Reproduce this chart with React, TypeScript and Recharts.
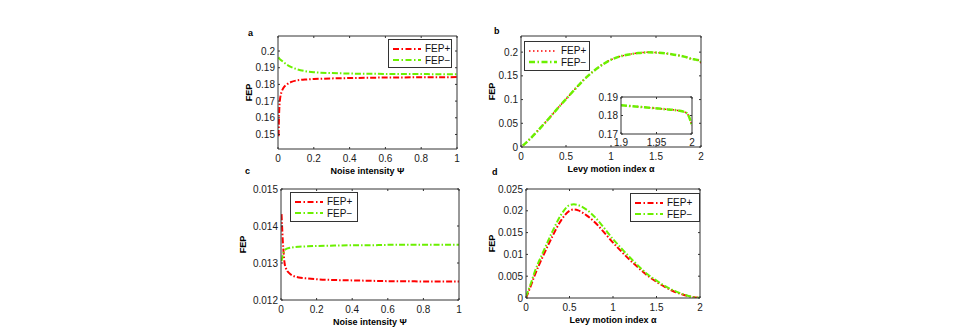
import React from 'react';
import { LineChart, Line, XAxis, YAxis, Legend } from 'recharts';

const FONT = '"Liberation Sans", Arial, Helvetica, sans-serif';
const RED = '#ff0000';
const GREEN = '#6bf000';
const AXIS = '#333333';
const TICK_FONT = 10;
const TITLE_FONT = 9;

// ---------- Panel a : FEP vs noise intensity ----------
const aNoise = [0.003, 0.006, 0.01, 0.02, 0.03, 0.05, 0.075, 0.1, 0.15, 0.2, 0.3, 0.4, 0.5, 0.6, 0.7, 0.8, 0.9, 1.0];
const aFepPlus = [0.149, 0.162, 0.17, 0.1755, 0.1778, 0.18, 0.1815, 0.1823, 0.1829, 0.1832, 0.1836, 0.1838, 0.184, 0.1841, 0.1842, 0.1843, 0.1843, 0.1844];
const aFepMinus = [0.1962, 0.1958, 0.1952, 0.1943, 0.1934, 0.1918, 0.1903, 0.1893, 0.188, 0.1873, 0.1868, 0.1865, 0.1864, 0.1863, 0.1862, 0.1862, 0.1861, 0.1861];
const aXTicks = [0, 0.2, 0.4, 0.6, 0.8, 1];
const aYTicks = [0.15, 0.16, 0.17, 0.18, 0.19, 0.2];

// ---------- Panel b : FEP vs Levy motion index ----------
const bAlpha = [0.02, 0.1, 0.2, 0.3, 0.4, 0.5, 0.6, 0.7, 0.8, 0.9, 1.0, 1.1, 1.2, 1.3, 1.4, 1.5, 1.6, 1.7, 1.8, 1.85, 1.9, 1.92, 1.94, 1.96, 1.98, 1.99, 1.995, 2.0];
const bFepPlus = [0.003, 0.017, 0.037, 0.058, 0.08, 0.101, 0.122, 0.142, 0.159, 0.173, 0.184, 0.191, 0.1952, 0.1982, 0.1997, 0.1992, 0.1976, 0.1948, 0.1912, 0.1886, 0.1855, 0.1849, 0.1842, 0.1835, 0.1827, 0.1818, 0.18, 0.1745];
const bFepMinus = [0.003, 0.017, 0.037, 0.058, 0.08, 0.101, 0.122, 0.142, 0.159, 0.173, 0.184, 0.191, 0.195, 0.198, 0.1995, 0.199, 0.1975, 0.1947, 0.191, 0.1885, 0.1855, 0.1849, 0.1842, 0.1835, 0.1827, 0.1818, 0.18, 0.1745];
const bXTicks = [0, 0.5, 1, 1.5, 2];
const bYTicks = [0, 0.05, 0.1, 0.15, 0.2];
const insetXTicks = [1.9, 1.95, 2];
const insetYTicks = [0.17, 0.18, 0.19];

// ---------- Panel c : FEP vs noise intensity ----------
const cNoise = [0.003, 0.006, 0.01, 0.015, 0.02, 0.03, 0.05, 0.075, 0.1, 0.15, 0.2, 0.3, 0.4, 0.5, 0.6, 0.7, 0.8, 0.9, 1.0];
const cFepPlus = [0.01432, 0.014, 0.0136, 0.01326, 0.013, 0.01283, 0.01271, 0.01264, 0.01261, 0.01258, 0.01256, 0.01254, 0.01253, 0.01252, 0.01251, 0.01251, 0.0125, 0.0125, 0.0125];
const cFepMinus = [0.01305, 0.01312, 0.01322, 0.01329, 0.01334, 0.01338, 0.01341, 0.01343, 0.01344, 0.01345, 0.01346, 0.01347, 0.01348, 0.01348, 0.01349, 0.01349, 0.01349, 0.01349, 0.01349];
const cXTicks = [0, 0.2, 0.4, 0.6, 0.8, 1];
const cYTicks = [0.012, 0.013, 0.014, 0.015];

// ---------- Panel d : FEP vs Levy motion index ----------
const dAlpha = [0, 0.05, 0.1, 0.2, 0.3, 0.4, 0.5, 0.55, 0.6, 0.7, 0.8, 0.9, 1.0, 1.1, 1.2, 1.3, 1.4, 1.5, 1.6, 1.7, 1.8, 1.9, 2.0];
const dFepPlus = [0, 0.0025, 0.0052, 0.0098, 0.014, 0.0177, 0.02, 0.0203, 0.0201, 0.0189, 0.0172, 0.015, 0.0127, 0.0106, 0.0086, 0.0068, 0.0051, 0.0037, 0.0025, 0.0015, 0.0008, 0.0003, 0];
const dFepMinus = [0.0003, 0.003, 0.006, 0.0107, 0.0151, 0.019, 0.0213, 0.0215, 0.0213, 0.0202, 0.0184, 0.016, 0.0135, 0.0113, 0.0092, 0.0072, 0.0054, 0.004, 0.0027, 0.0017, 0.0009, 0.0003, 0];
const dXTicks = [0, 0.5, 1, 1.5, 2];
const dYTicks = [0, 0.005, 0.01, 0.015, 0.02, 0.025];

const zip = (xs: number[], p: number[], m: number[]) => xs.map((x, i) => ({ x, plus: p[i], minus: m[i] }));

const aData = zip(aNoise, aFepPlus, aFepMinus);
const bData = zip(bAlpha, bFepPlus, bFepMinus);
const insetData = bData.filter((d) => d.x >= 1.9);
const cData = zip(cNoise, cFepPlus, cFepMinus);
const dData = zip(dAlpha, dFepPlus, dFepMinus);

type S = { key: string; name: string; color: string; dash: string; width: number; lw: number; ldash: string };

const dashDotSeries: S[] = [
  { key: 'plus', name: 'FEP+', color: RED, dash: '6 2 1.5 2', width: 2, lw: 2, ldash: '6 2.5 1.5 2.5' },
  { key: 'minus', name: 'FEP\u2212', color: GREEN, dash: '6 2 1.5 2', width: 2, lw: 2, ldash: '6 2.5 1.5 2.5' },
];
const bSeries: S[] = [
  { key: 'plus', name: 'FEP+', color: RED, dash: '1.5 2.5', width: 1.5, lw: 1.5, ldash: '1.5 2.5' },
  { key: 'minus', name: 'FEP\u2212', color: GREEN, dash: '6 2 1.5 2', width: 2.5, lw: 2.5, ldash: '6 2.5 1.5 2.5' },
];

function LegendBox({ series, w, h }: { series: S[]; w: number; h: number }) {
  return (
    <div
      style={{
        width: w,
        height: h,
        boxSizing: 'border-box',
        border: `1px solid ${AXIS}`,
        background: '#fff',
        fontFamily: FONT,
        fontSize: 10,
        color: '#111',
        padding: '3px 0 0 4px',
      }}
    >
      {series.map((s) => (
        <div key={s.key} style={{ display: 'flex', alignItems: 'center', height: 11.5 }}>
          <svg width={28} height={6} style={{ display: 'block' }}>
            <line x1={0} y1={3} x2={28} y2={3} stroke={s.color} strokeWidth={s.lw} strokeDasharray={s.ldash} />
          </svg>
          <span style={{ marginLeft: 4, lineHeight: '11px' }}>{s.name}</span>
        </div>
      ))}
    </div>
  );
}

const hiddenTick = () => <g />;

type PanelProps = {
  left: number;
  top: number;
  width: number;
  height: number;
  yAxisWidth: number;
  marginTop: number;
  marginRight: number;
  xAxisHeight: number;
  data: any[];
  xDomain: [number, number];
  xTicks: number[];
  yDomain: [number, number];
  yTicks: number[];
  series: S[];
  xLabel?: string;
  xLabelOffset?: number;
  yLabel?: string;
  yLabelOffset?: number;
  legend?: { left: number; top: number; w: number; h: number };
  tickMargin?: number;
};

function Panel(p: PanelProps) {
  const tickStyle = { fontSize: TICK_FONT, fill: '#1a1a1a', fontFamily: FONT };
  const titleStyle = { fontSize: TITLE_FONT, fontWeight: 'bold' as const, fill: '#000', fontFamily: FONT };
  return (
    <div style={{ position: 'absolute', left: p.left, top: p.top }}>
      <LineChart
        width={p.width}
        height={p.height}
        data={p.data}
        margin={{ top: p.marginTop, right: p.marginRight, bottom: 0, left: 0 }}
        style={{ fontFamily: FONT }}
      >
        <XAxis
          dataKey="x"
          type="number"
          domain={p.xDomain}
          ticks={p.xTicks}
          interval={0}
          allowDataOverflow
          height={p.xAxisHeight}
          tickSize={-2}
          tickMargin={p.tickMargin ?? 8}
          stroke={AXIS}
          tick={tickStyle}
          label={
            p.xLabel
              ? { value: p.xLabel, position: 'insideTop', offset: p.xLabelOffset ?? 19, style: titleStyle }
              : undefined
          }
        />
        <XAxis
          xAxisId="top"
          orientation="top"
          type="number"
          dataKey="x"
          domain={p.xDomain}
          ticks={p.xTicks}
          interval={0}
          allowDataOverflow
          height={1}
          tickSize={-2}
          stroke={AXIS}
          tick={hiddenTick}
        />
        <YAxis
          type="number"
          domain={p.yDomain}
          ticks={p.yTicks}
          interval={0}
          allowDataOverflow
          width={p.yAxisWidth}
          tickSize={-2}
          tickMargin={5}
          stroke={AXIS}
          tick={tickStyle}
          label={
            p.yLabel
              ? {
                  value: p.yLabel,
                  angle: -90,
                  position: 'insideLeft',
                  offset: p.yLabelOffset ?? 10,
                  style: { ...titleStyle, textAnchor: 'middle' },
                }
              : undefined
          }
        />
        <YAxis
          yAxisId="right"
          orientation="right"
          type="number"
          domain={p.yDomain}
          ticks={p.yTicks}
          interval={0}
          allowDataOverflow
          width={1}
          tickSize={-2}
          stroke={AXIS}
          tick={hiddenTick}
        />
        {p.series.map((s) => (
          <Line
            key={s.key}
            type="monotone"
            dataKey={s.key}
            name={s.name}
            stroke={s.color}
            strokeWidth={s.width}
            strokeDasharray={s.dash}
            dot={false}
            activeDot={false}
            isAnimationActive={false}
          />
        ))}
        {p.legend ? (
          <Legend
            layout="vertical"
            align="center"
            verticalAlign="middle"
            wrapperStyle={{ left: p.legend.left, top: p.legend.top, width: 'auto', height: 'auto' }}
            content={() => <LegendBox series={p.series} w={p.legend!.w} h={p.legend!.h} />}
          />
        ) : null}
      </LineChart>
    </div>
  );
}

const letterStyle: React.CSSProperties = {
  position: 'absolute',
  fontFamily: FONT,
  fontWeight: 'bold',
  fontSize: 9,
  lineHeight: '10px',
  color: '#000',
};

export default function App() {
  return (
    <div style={{ position: 'absolute', left: 0, top: 0, width: 969, height: 335, background: '#fff', overflow: 'hidden' }}>
      <div style={{ ...letterStyle, left: 248, top: 28 }}>a</div>
      <div style={{ ...letterStyle, left: 494, top: 26 }}>b</div>
      <div style={{ ...letterStyle, left: 245, top: 166 }}>c</div>
      <div style={{ ...letterStyle, left: 492, top: 167 }}>d</div>

      <Panel
        left={236}
        top={30}
        width={226}
        height={149}
        yAxisWidth={42}
        marginTop={5}
        marginRight={4}
        xAxisHeight={30}
        data={aData}
        xDomain={[0, 1]}
        xTicks={aXTicks}
        yDomain={[0.1413, 0.209]}
        yTicks={aYTicks}
        series={dashDotSeries}
        xLabel="Noise intensity Ψ"
        yLabel="FEP"
        yLabelOffset={13}
        legend={{ left: 152, top: 9, w: 64, h: 29 }}
      />

      <Panel
        left={488}
        top={30}
        width={218}
        height={147}
        yAxisWidth={33}
        marginTop={5}
        marginRight={4}
        xAxisHeight={30}
        data={bData}
        xDomain={[0, 2]}
        xTicks={bXTicks}
        yDomain={[0, 0.234]}
        yTicks={bYTicks}
        series={bSeries}
        xLabel="Levy motion index α"
        yLabel="FEP"
        yLabelOffset={4}
        legend={{ left: 36, top: 11, w: 66, h: 30 }}
      />

      <Panel
        left={590}
        top={90}
        width={107}
        height={58}
        yAxisWidth={31}
        marginTop={6}
        marginRight={4}
        xAxisHeight={14}
        data={insetData}
        xDomain={[1.9, 2]}
        xTicks={insetXTicks}
        yDomain={[0.17, 0.19]}
        yTicks={insetYTicks}
        series={bSeries}
        tickMargin={7}
      />

      <Panel
        left={236}
        top={182}
        width={228}
        height={148}
        yAxisWidth={45}
        marginTop={6}
        marginRight={4}
        xAxisHeight={30}
        data={cData}
        xDomain={[0, 1]}
        xTicks={cXTicks}
        yDomain={[0.012, 0.015]}
        yTicks={cYTicks}
        series={dashDotSeries}
        xLabel="Noise intensity Ψ"
        yLabel="FEP"
        yLabelOffset={7}
        legend={{ left: 54, top: 10, w: 68, h: 30 }}
      />

      <Panel
        left={488}
        top={182}
        width={217}
        height={146}
        yAxisWidth={38}
        marginTop={6}
        marginRight={4}
        xAxisHeight={30}
        data={dData}
        xDomain={[0, 2]}
        xTicks={dXTicks}
        yDomain={[0, 0.025]}
        yTicks={dYTicks}
        series={dashDotSeries}
        xLabel="Levy motion index α"
        yLabel="FEP"
        yLabelOffset={4}
        legend={{ left: 142, top: 11, w: 70, h: 29 }}
      />
    </div>
  );
}
